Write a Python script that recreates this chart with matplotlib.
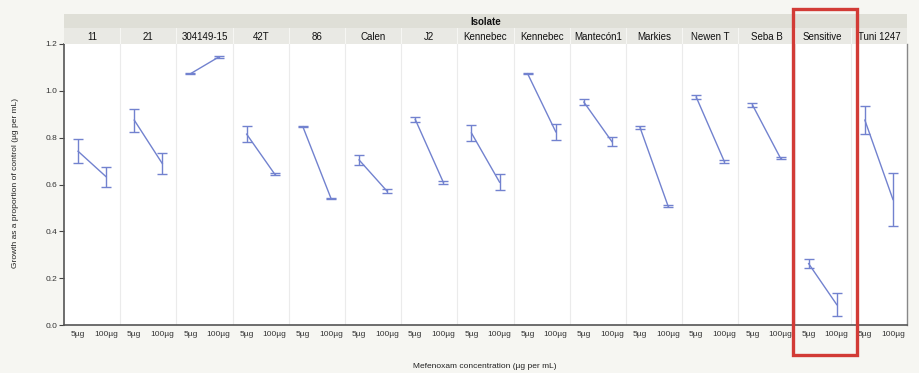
import matplotlib
matplotlib.use("Agg")
import matplotlib.pyplot as plt
from matplotlib.patches import Rectangle
import numpy as np

plt.rcParams['font.family'] = ['Liberation Sans', 'DejaVu Sans']

isolates = ["11", "21", "304149-15", "42T", "86", "Calen", "J2", "Kennebec",
            "Kennebec", "Mantecón1", "Markies", "Newen T", "Seba B", "Sensitive",
            "Tuni 1247"]
concentrations = ["5µg", "100µg"]
growth_5 = [0.742, 0.875, 1.073, 0.815, 0.847, 0.705, 0.878, 0.82,
            1.073, 0.952, 0.843, 0.973, 0.94, 0.262, 0.875]
err_5 = [0.052, 0.049, 0.003, 0.035, 0.003, 0.02, 0.012, 0.035,
         0.003, 0.014, 0.007, 0.01, 0.007, 0.02, 0.06]
growth_100 = [0.633, 0.689, 1.144, 0.644, 0.541, 0.571, 0.609, 0.61,
              0.825, 0.783, 0.507, 0.698, 0.712, 0.087, 0.536]
err_100 = [0.042, 0.045, 0.003, 0.003, 0.003, 0.008, 0.008, 0.035,
           0.035, 0.018, 0.004, 0.005, 0.004, 0.048, 0.115]
y_ticks = [0.0, 0.2, 0.4, 0.6, 0.8, 1.0, 1.2]
highlight = "Sensitive"

W, H = 920, 373
fig = plt.figure(figsize=(W / 100, H / 100), dpi=100)
fig.patch.set_facecolor('#f6f6f2')

def fx(px):
    return px / W

def fy(py):
    return 1 - py / H

left_px, right_px, top_px, bot_px = 64, 907, 44, 325
ax = fig.add_axes([fx(left_px), fy(bot_px), fx(right_px - left_px), fy(top_px) - fy(bot_px)])
ax.set_facecolor('white')
n = len(isolates)
ax.set_xlim(0, n)
ax.set_ylim(0, 1.2)

line_color = '#7282cf'
xs5 = np.arange(n) + 0.25
xs100 = np.arange(n) + 0.75

for i in range(n):
    ax.plot([xs5[i], xs100[i]], [growth_5[i], growth_100[i]], color=line_color, lw=1.0)
ax.errorbar(xs5, growth_5, yerr=err_5, fmt='none', ecolor=line_color,
            elinewidth=1.0, capsize=3.4, capthick=1.0)
ax.errorbar(xs100, growth_100, yerr=err_100, fmt='none', ecolor=line_color,
            elinewidth=1.0, capsize=3.4, capthick=1.0)

for i in range(1, n):
    ax.axvline(i, color='#ebebeb', lw=0.8, zorder=0)

ax.set_yticks(y_ticks)
ax.set_yticklabels([f"{v:.1f}" for v in y_ticks], fontsize=6, color='#333333')
ax.tick_params(axis='y', length=3.5, width=0.8, color='#444444', pad=1.5)
ax.set_xticks(np.concatenate([xs5, xs100]))
ax.set_xticklabels([concentrations[0]] * n + [concentrations[1]] * n,
                   fontsize=6, color='#333333')
ax.tick_params(axis='x', length=0, pad=4)
for s in ['left', 'bottom']:
    ax.spines[s].set_color('#555555')
    ax.spines[s].set_linewidth(1.2)
ax.spines['right'].set_color('#888888')
ax.spines['right'].set_linewidth(1.0)
ax.spines['top'].set_visible(False)

# header strips: isolate names and overall "Isolate" title
name_ax = fig.add_axes([fx(left_px), fy(top_px), fx(right_px - left_px), fy(28) - fy(top_px)])
name_ax.set_xlim(0, n)
name_ax.set_ylim(0, 1)
name_ax.set_facecolor('#e9e9e4')
name_ax.set_xticks([])
name_ax.set_yticks([])
for s in name_ax.spines.values():
    s.set_visible(False)
for i, name in enumerate(isolates):
    name_ax.text(i + 0.5, 0.45, name, ha='center', va='center', fontsize=7, color='#111111')
for i in range(1, n):
    name_ax.axvline(i, color='#f6f6f3', lw=0.8)

title_ax = fig.add_axes([fx(left_px), fy(28), fx(right_px - left_px), fy(14) - fy(28)])
title_ax.set_xlim(0, n)
title_ax.set_ylim(0, 1)
title_ax.set_facecolor('#dfdfd7')
title_ax.set_xticks([])
title_ax.set_yticks([])
for s in title_ax.spines.values():
    s.set_visible(False)
title_ax.text(n / 2, 0.4, "Isolate", ha='center', va='center', fontsize=7,
              fontweight='bold', color='#111111')

fig.text(fx(485), fy(366), "Mefenoxam concentration (µg per mL)", ha='center',
         va='center', fontsize=6, color='#222222')
fig.text(fx(16), fy(183), "Growth as a proportion of control (µg per mL)", ha='center',
         va='center', rotation=90, fontsize=6, color='#222222')

# outline around the highlighted isolate
k = isolates.index(highlight)
x0 = left_px + (right_px - left_px) * k / n - 2
x1 = left_px + (right_px - left_px) * (k + 1) / n + 6
fig.patches.append(Rectangle((fx(x0), fy(355)), fx(x1 - x0), fy(9) - fy(355),
                             transform=fig.transFigure, fill=False,
                             edgecolor='#d23b36', lw=2.4, zorder=10))

fig.savefig("out.png", dpi=100, facecolor=fig.get_facecolor())
